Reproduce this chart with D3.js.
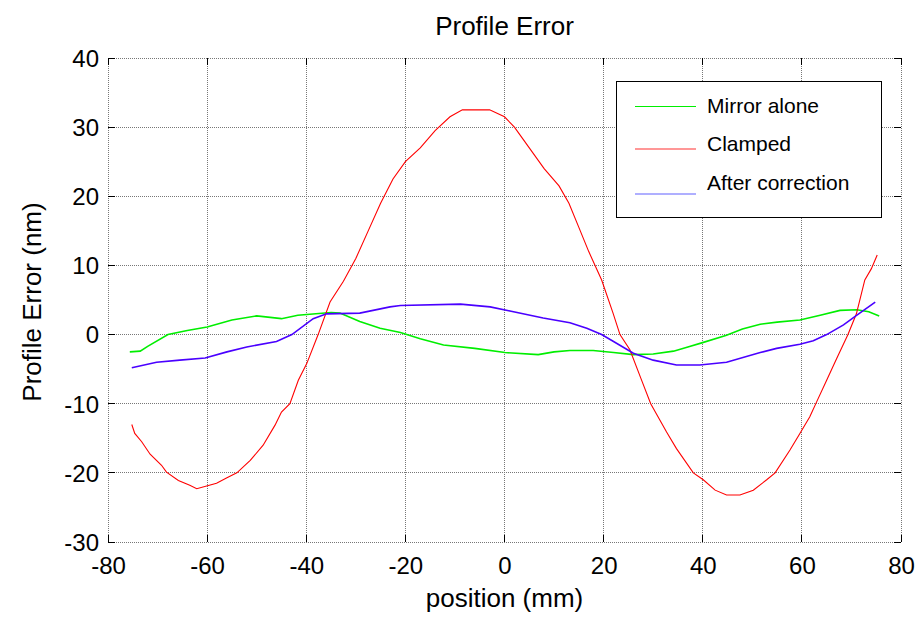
<!DOCTYPE html>
<html><head><meta charset="utf-8">
<script src="https://cdn.jsdelivr.net/npm/d3@7"></script>
<style>body{margin:0;background:#fff}svg{display:block}text{font-family:"Liberation Sans",Arial,sans-serif}</style>
</head><body><svg id="c" width="924" height="621"></svg>
<script>
const xTicks = [-80,-60,-40,-20,0,20,40,60,80];
const yTicks = [-30,-20,-10,0,10,20,30,40];
const seriesNames = ["Mirror alone","Clamped","After correction"];

const mirrorX = [-75.6,-73.5,-72,-67.9,-64,-60,-55,-50,-45,-41.7,-35,-33.2,-29.2,-25.1,-21,-17,-12.3,-6,0.1,6.8,10,13.2,17.9,22,26,30,34.1,37,39.8,44.8,48,51.6,55,59.6,63.7,67.7,71.1,73.5,75.6];
const mirrorY = [-2.5,-2.4,-1.7,0,0.6,1.1,2.1,2.7,2.3,2.8,3.2,3.1,1.9,0.9,0.3,-0.6,-1.5,-2.0,-2.6,-2.9,-2.5,-2.3,-2.3,-2.6,-2.9,-2.8,-2.4,-1.8,-1.2,-0.1,0.8,1.5,1.8,2.1,2.8,3.5,3.6,3.3,2.7];

const clampX = [-75.2,-74.6,-73.2,-71.5,-69.2,-68.2,-65.8,-63.5,-62.1,-60.1,-58.1,-56,-54,-51.3,-48.7,-46.3,-45,-43.3,-41.6,-39.9,-37.6,-35.2,-32.5,-30,-27.5,-25,-22.5,-20,-17,-14,-11,-8.5,-3,0,2,5,8,11,13,15,17,19.6,21.9,23.3,25.3,27.5,29.5,32.7,34.7,38.1,40.1,42.5,44.8,47.5,50.2,52.9,54.6,57.6,59.6,61.6,63,65,67,69.3,71,72.7,74,75.2];
const clampY = [-13,-14.3,-15.5,-17.3,-18.9,-19.9,-21.1,-21.8,-22.3,-21.9,-21.5,-20.7,-20,-18.2,-16,-13.1,-11.2,-10,-6.6,-4.2,0,4.7,7.7,11,15,19,22.5,25,27,29.5,31.5,32.5,32.5,31.5,30,27,24,21.5,19,15.5,12,7.9,3.1,0,-2.2,-6.3,-10,-14.1,-16.5,-20,-21,-22.5,-23.2,-23.2,-22.5,-21,-20,-16.7,-14.3,-11.9,-9.7,-6.6,-3.5,0,3,7.9,9.5,11.5];

const afterX = [-75.2,-70.2,-65.5,-60.4,-56,-52,-46,-42.9,-38.6,-35.9,-29.2,-23.1,-21,-8.9,-2.9,1.1,7.8,13.2,16.6,19.6,22,26,30,34.7,39.4,44.8,51.6,54.9,59.6,62.3,65,68.4,71.1,74.8];
const afterY = [-4.8,-4.0,-3.7,-3.4,-2.5,-1.8,-1.0,0,2.3,3.0,3.1,4.0,4.2,4.4,4.0,3.4,2.4,1.7,0.9,0,-1.0,-2.7,-3.7,-4.4,-4.4,-4.0,-2.6,-2.0,-1.4,-0.9,0,1.4,2.8,4.7];

const svg = d3.select("#c");
const L = 108, T = 58, R = 901, B = 542;
const x = d3.scaleLinear().domain([-80,80]).range([L,R]);
const y = d3.scaleLinear().domain([-30,40]).range([B,T]);

// grid
const g = svg.append("g");
g.selectAll(".vg").data(xTicks).join("line")
  .attr("x1",d=>x(d)).attr("x2",d=>x(d)).attr("y1",T).attr("y2",B)
  .attr("stroke","#777").attr("stroke-dasharray","1,1").attr("shape-rendering","crispEdges");
g.selectAll(".hg").data(yTicks).join("line")
  .attr("y1",d=>y(d)).attr("y2",d=>y(d)).attr("x1",L).attr("x2",R)
  .attr("stroke","#777").attr("stroke-dasharray","1,1").attr("shape-rendering","crispEdges");

// ticks (inward, all four sides)
const tl = 7;
const ax = d3.axisBottom(x).tickValues(xTicks).tickSize(0).tickPadding(0);
xTicks.forEach(t=>{
  g.append("line").attr("x1",x(t)).attr("x2",x(t)).attr("y1",B).attr("y2",B-tl).attr("stroke","#000").attr("shape-rendering","crispEdges");
  g.append("line").attr("x1",x(t)).attr("x2",x(t)).attr("y1",T).attr("y2",T+tl).attr("stroke","#000").attr("shape-rendering","crispEdges");
});
yTicks.forEach(t=>{
  g.append("line").attr("y1",y(t)).attr("y2",y(t)).attr("x1",L).attr("x2",L+tl).attr("stroke","#000").attr("shape-rendering","crispEdges");
  g.append("line").attr("y1",y(t)).attr("y2",y(t)).attr("x1",R).attr("x2",R-tl).attr("stroke","#000").attr("shape-rendering","crispEdges");
});

// tick labels via axes
const xa = svg.append("g").attr("transform",`translate(0,${B})`)
  .call(d3.axisBottom(x).tickValues(xTicks).tickSize(0).tickPadding(0).tickFormat(d3.format("d")));
xa.select(".domain").remove();
xa.selectAll("text").attr("dy",null).attr("y",32).attr("font-size",24).attr("fill","#000")
  .text(d=>String(d).replace("−","-"));
const ya = svg.append("g").attr("transform",`translate(${L},0)`)
  .call(d3.axisLeft(y).tickValues(yTicks).tickSize(0).tickPadding(0).tickFormat(d3.format("d")));
ya.select(".domain").remove();
ya.selectAll("text").attr("x",-9).attr("dy","0.35em").attr("font-size",24).attr("fill","#000")
  .text(d=>String(d));
svg.selectAll(".tick text").attr("font-family",'"Liberation Sans",Arial,sans-serif');

// lines
const line = d3.line().x(d=>x(d[0])).y(d=>y(d[1]));
const mk = (xs,ys)=>xs.map((v,i)=>[v,ys[i]]);
svg.append("path").datum(mk(mirrorX,mirrorY)).attr("d",line).attr("fill","none").attr("stroke","#00ee00").attr("stroke-width",1.6);
svg.append("path").datum(mk(clampX,clampY)).attr("d",line).attr("fill","none").attr("stroke","#ff0000").attr("stroke-width",1.1);
svg.append("path").datum(mk(afterX,afterY)).attr("d",line).attr("fill","none").attr("stroke","#4a00ff").attr("stroke-width",1.6);

// legend
const lg = svg.append("g");
lg.append("rect").attr("x",616.5).attr("y",81.5).attr("width",265).attr("height",136).attr("fill","#fff").attr("stroke","#000");
const lcol = ["#00ee00","#ff3030","#6060ff"];
const ly = [106.5,149,194], ty = [113,151,190];
seriesNames.forEach((n,i)=>{
  lg.append("line").attr("x1",635).attr("x2",696).attr("y1",ly[i]).attr("y2",ly[i]).attr("stroke",lcol[i]).attr("stroke-width",1.2);
  lg.append("text").attr("x",707).attr("y",ty[i]).attr("font-size",21).text(n);
});

// titles
svg.append("text").attr("x",(L+R)/2).attr("y",35).attr("text-anchor","middle").attr("font-size",26).text("Profile Error");
svg.append("text").attr("x",(L+R)/2).attr("y",607).attr("text-anchor","middle").attr("font-size",26).text("position (mm)");
svg.append("text").attr("transform","translate(41,302) rotate(-90)").attr("text-anchor","middle").attr("font-size",26).text("Profile Error (nm)");
</script></body></html>
